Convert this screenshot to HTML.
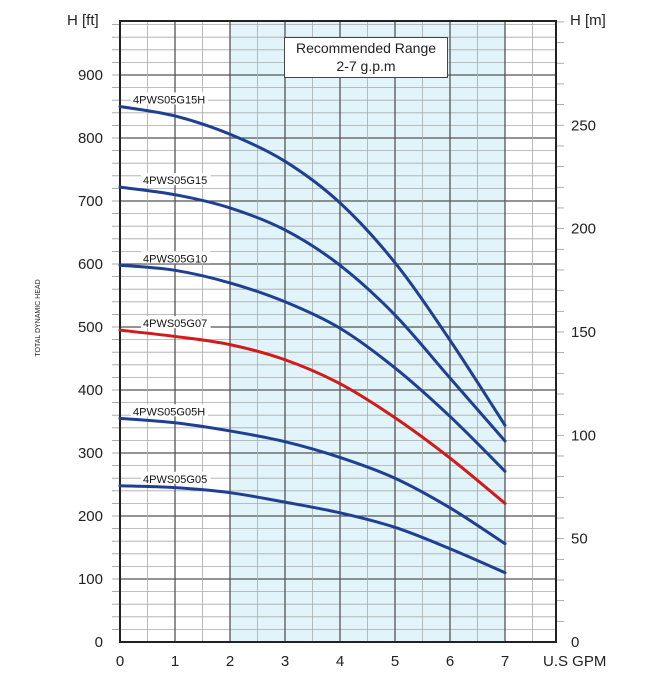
<!DOCTYPE html>
<html><head><meta charset="utf-8"><style>
html,body{margin:0;padding:0;background:#fff;}
svg{display:block;font-family:"Liberation Sans",Arial,sans-serif;}
</style></head><body>
<svg id="chart" width="670" height="674" viewBox="0 0 670 674" xmlns="http://www.w3.org/2000/svg"></svg>
<script>
const flowTicks = [0,1,2,3,4,5,6,7];
const ftTicks = [0,100,200,300,400,500,600,700,800,900];
const mTicks = [0,50,100,150,200,250];
const flows = [0,1,2,3,4,5,6,7];
const seriesNames = ["4PWS05G15H","4PWS05G15","4PWS05G10","4PWS05G07","4PWS05G05H","4PWS05G05"];
const g15h = [850,835,806,763,697,602,479,344];
const g15 = [722,710,689,654,598,519,419,319];
const g10 = [598,590,570,540,498,435,358,271];
const g07 = [495,485,472,448,410,356,292,220];
const g05h = [355,348,335,318,293,260,213,156];
const g05 = [248,245,237,222,205,182,148,110];
const rangeMin = 2, rangeMax = 7;

const NS="http://www.w3.org/2000/svg";
const svg=document.getElementById('chart');
const X0=120, PX=55, Y0=642, PY=0.63, TOP=21, RIGHT=556;
const xs=v=>X0+v*PX, ys=v=>Y0-v*PY;
function mk(tag,attrs,parent){const e=document.createElementNS(NS,tag);for(const k in attrs)e.setAttribute(k,attrs[k]);(parent||svg).appendChild(e);return e;}

let shade=mk('rect',{x:xs(rangeMin),y:TOP,width:xs(rangeMax)-xs(rangeMin),height:Y0-TOP,fill:'#e1f4fa'});



for(let v=0;v<=1000;v+=20){const y=ys(v);if(y<TOP)break;
  let l=mk('line',{x1:X0,x2:RIGHT,y1:y,y2:y,stroke:v%100===0?'#555':'#aaa','stroke-width':v%100===0?1.3:0.8});
  }
for(let v=0.5;xs(v)<RIGHT;v+=0.5){const x=xs(v);
  let l=mk('line',{x1:x,x2:x,y1:TOP,y2:Y0,stroke:v%1===0?'#555':'#aaa','stroke-width':v%1===0?1.3:0.8});
  }
for(let v=20;ys(v)>=TOP;v+=20){let l=mk('line',{x1:X0-8,x2:X0,y1:ys(v),y2:ys(v),stroke:'#999','stroke-width':0.8});
  }
for(let m=10;ys(m*3.2808)>=TOP;m+=10){const y=ys(m*3.2808);
  let l=mk('line',{x1:RIGHT,x2:RIGHT+8,y1:y,y2:y,stroke:'#999','stroke-width':0.8});
  }

let fr=mk('rect',{x:X0,y:TOP,width:RIGHT-X0,height:Y0-TOP,fill:'none',stroke:'#222','stroke-width':2});


let bx=mk('rect',{x:284.5,y:37.5,width:163,height:40,fill:'#fff',stroke:'#444','stroke-width':1});

let t1=mk('text',{x:366,y:53,'font-size':14,'text-anchor':'middle',fill:'#222'});t1.textContent='Recommended Range';

let t2=mk('text',{x:366,y:71,'font-size':14,'text-anchor':'middle',fill:'#222'});t2.textContent='2-7 g.p.m';


ftTicks.forEach(v=>{let t=mk('text',{x:103,y:ys(v)+5,'font-size':15,'text-anchor':'end',fill:'#222'});t.textContent=v;
  });
mTicks.forEach(v=>{let t=mk('text',{x:571,y:ys(v*3.2808)+5,'font-size':15,fill:'#222'});t.textContent=v;
  });
flowTicks.forEach(v=>{let t=mk('text',{x:xs(v),y:666,'font-size':15,'text-anchor':'middle',fill:'#222'});t.textContent=v;
  });
[['H [ft]',67,25,'start','y-axis-title'],['H [m]',570,25,'start','y2-axis-title'],['U.S GPM',543,666,'start','x-axis-title']].forEach(a=>{
  let t=mk('text',{x:a[1],y:a[2],'font-size':15,'text-anchor':a[3],fill:'#222'});t.textContent=a[0];
  });
let yl=mk('text',{x:0,y:0,'font-size':7,'text-anchor':'middle',fill:'#222',transform:'translate(40,318) rotate(-90)'});yl.textContent='TOTAL DYNAMIC HEAD';


function smooth(pts){let d=`M${pts[0][0]},${pts[0][1]}`;
  for(let i=0;i<pts.length-1;i++){const p0=pts[Math.max(i-1,0)],p1=pts[i],p2=pts[i+1],p3=pts[Math.min(i+2,pts.length-1)];
    const c1=[p1[0]+(p2[0]-p0[0])/6,p1[1]+(p2[1]-p0[1])/6],c2=[p2[0]-(p3[0]-p1[0])/6,p2[1]-(p3[1]-p1[1])/6];
    d+=`C${c1[0]},${c1[1]} ${c2[0]},${c2[1]} ${p2[0]},${p2[1]}`;}return d;}
const allSeries=[g15h,g15,g10,g07,g05h,g05];
const labelX=[133,143,143,143,133,143];
allSeries.forEach((s,i)=>{
  const pts=flows.map((f,j)=>[xs(f),ys(s[j])]);
  let p=mk('path',{d:smooth(pts),fill:'none',stroke:i===3?'#d11a1a':'#1f3f92','stroke-width':3,'stroke-linecap':'round'});
  
  
  let bg=mk('rect',{x:labelX[i]-2,y:ys(s[0])-14,width:seriesNames[i].length*7.3+4,height:12,fill:'#fff'});
  
  
  let t=mk('text',{x:labelX[i],y:ys(s[0])-3,'font-size':11,fill:'#111'});t.textContent=seriesNames[i];
  
  
});
</script>
</body></html>
